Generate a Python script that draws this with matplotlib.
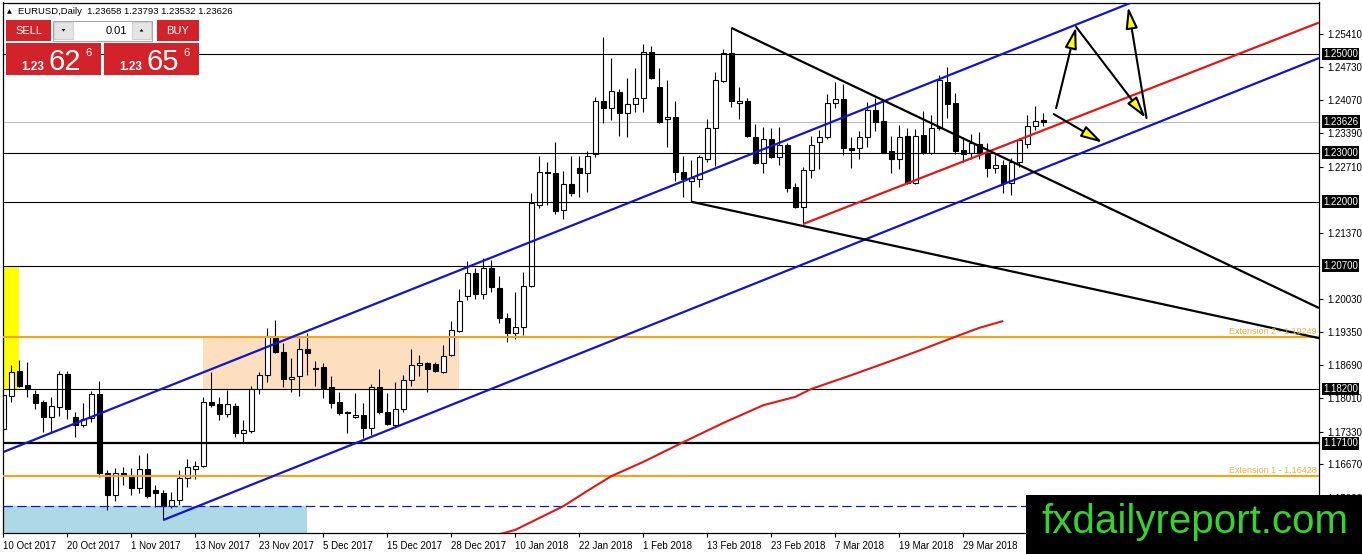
import matplotlib
matplotlib.use("Agg")
import matplotlib.pyplot as plt
from matplotlib.patches import Rectangle, Polygon
import numpy as np

plt.rcParams['font.family'] = ['Liberation Sans', 'DejaVu Sans']

# ---------------- data ----------------
opens = [1.1739,1.1806,1.1857,1.1828,1.1810,1.1794,1.1763,1.1783,1.1850,1.1763,
         1.1747,1.1761,1.1810,1.1649,1.1605,1.1649,1.1641,1.1619,1.1658,1.1615,
         1.1609,1.1582,1.1595,1.1639,1.1658,1.1664,1.1794,1.1790,1.1769,1.1785,
         1.1731,1.1735,1.1820,1.1848,1.1924,1.1895,1.1840,1.1846,1.1901,1.1863,
         1.1865,1.1824,1.1794,1.1773,1.1763,1.1767,1.1741,1.1824,1.1773,1.1747,
         1.1779,1.1838,1.1869,1.1873,1.1871,1.1854,1.1889,1.1938,1.2009,1.2055,
         1.2013,1.2066,1.2025,1.1964,1.1934,1.1946,1.2029,1.2193,1.2260,1.2258,
         1.2183,1.2236,1.2269,1.2258,1.2297,1.2405,1.2390,1.2423,1.2380,1.2398,
         1.2411,1.2504,1.2433,1.2368,1.2372,1.2260,1.2242,1.2246,1.2287,1.2350,
         1.2445,1.2502,1.2401,1.2405,1.2332,1.2279,1.2327,1.2291,1.2315,1.2230,
         1.2189,1.2264,1.2321,1.2332,1.2400,1.2409,1.2309,1.2309,1.2332,1.2386,
         1.2364,1.2303,1.2287,1.2334,1.2238,1.2336,1.2299,1.2350,1.2443,1.2401,
         1.2305,1.2299,1.2317,1.2299,1.2269,1.2275,1.2238,1.2281,1.2317,1.2354,
         1.23658]
highs = [1.1818,1.1869,1.1879,1.1875,1.1818,1.1798,1.1804,1.1857,1.1857,1.1773,
         1.1792,1.1816,1.1836,1.1656,1.1660,1.1662,1.1660,1.1686,1.1690,1.1625,
         1.1615,1.1611,1.1656,1.1678,1.1674,1.1804,1.1854,1.1804,1.1818,1.1792,
         1.1757,1.1826,1.1854,1.1944,1.1960,1.1913,1.1883,1.1924,1.1934,1.1877,
         1.1873,1.1846,1.1814,1.1775,1.1812,1.1792,1.1830,1.1861,1.1812,1.1834,
         1.1848,1.1901,1.1889,1.1875,1.1875,1.1909,1.1958,1.2023,1.2080,1.2066,
         1.2086,1.2082,1.2049,1.1974,1.2017,1.2057,1.2218,1.2293,1.2281,1.2321,
         1.2262,1.2293,1.2293,1.2303,1.2413,1.2535,1.2492,1.2429,1.2451,1.2472,
         1.2520,1.2516,1.2472,1.2447,1.2405,1.2293,1.2285,1.2295,1.2368,1.2463,
         1.2510,1.2553,1.2433,1.2411,1.2358,1.2352,1.2350,1.2352,1.2319,1.2238,
         1.2271,1.2334,1.2346,1.2419,1.2443,1.2439,1.2332,1.2344,1.2403,1.2411,
         1.2405,1.2334,1.2356,1.2350,1.2348,1.2384,1.2376,1.2457,1.2474,1.2421,
         1.2332,1.2338,1.2342,1.2319,1.2295,1.2285,1.2289,1.2330,1.2376,1.2394,
         1.23793]
lows = [1.1733,1.1794,1.1824,1.1804,1.1779,1.1733,1.1731,1.1765,1.1759,1.1723,
        1.1743,1.1753,1.1641,1.1574,1.1593,1.1625,1.1605,1.1609,1.1599,1.1580,
        1.1554,1.1578,1.1584,1.1621,1.1637,1.1662,1.1783,1.1757,1.1763,1.1723,
        1.1712,1.1731,1.1810,1.1834,1.1893,1.1824,1.1814,1.1806,1.1848,1.1826,
        1.1802,1.1781,1.1767,1.1731,1.1761,1.1720,1.1727,1.1769,1.1747,1.1743,
        1.1773,1.1826,1.1846,1.1814,1.1854,1.1852,1.1887,1.1936,1.2001,1.2003,
        1.2003,1.2017,1.1954,1.1915,1.1921,1.1930,1.2027,1.2187,1.2193,1.2175,
        1.2165,1.2212,1.2210,1.2220,1.2291,1.2360,1.2366,1.2334,1.2332,1.2382,
        1.2382,1.2449,1.2360,1.2311,1.2242,1.2210,1.2200,1.2230,1.2281,1.2273,
        1.2443,1.2392,1.2368,1.2332,1.2277,1.2258,1.2289,1.2275,1.2220,1.2187,
        1.2155,1.2248,1.2267,1.2327,1.2390,1.2295,1.2269,1.2287,1.2311,1.2344,
        1.2299,1.2258,1.2267,1.2236,1.2236,1.2297,1.2297,1.2346,1.2370,1.2297,
        1.2281,1.2287,1.2287,1.2250,1.2258,1.2218,1.2214,1.2271,1.2309,1.2346,
        1.23532]
closes = [1.1808,1.1854,1.1826,1.1820,1.1792,1.1763,1.1785,1.1850,1.1779,1.1747,
          1.1759,1.1810,1.1649,1.1605,1.1649,1.1643,1.1619,1.1658,1.1603,1.1609,
          1.1582,1.1595,1.1639,1.1662,1.1664,1.1794,1.1787,1.1769,1.1790,1.1731,
          1.1737,1.1820,1.1848,1.1928,1.1895,1.1840,1.1844,1.1901,1.1893,1.1861,
          1.1822,1.1792,1.1771,1.1771,1.1767,1.1741,1.1824,1.1773,1.1749,1.1779,
          1.1838,1.1869,1.1873,1.1861,1.1857,1.1887,1.1940,1.1999,1.2055,1.2013,
          1.2066,1.2027,1.1964,1.1934,1.1946,1.2029,1.2198,1.2260,1.2258,1.2181,
          1.2236,1.2218,1.2258,1.2293,1.2405,1.2390,1.2425,1.2380,1.2398,1.2411,
          1.2504,1.2451,1.2362,1.2372,1.2260,1.2246,1.2248,1.2291,1.2350,1.2447,
          1.2502,1.2405,1.2405,1.2334,1.2279,1.2327,1.2291,1.2315,1.2228,1.2189,
          1.2264,1.2315,1.2332,1.2400,1.2409,1.2309,1.2305,1.2332,1.2386,1.2362,
          1.2299,1.2287,1.2332,1.2238,1.2334,1.2299,1.2350,1.2447,1.2399,1.2303,
          1.2297,1.2319,1.2299,1.2269,1.2275,1.2238,1.2281,1.2325,1.2354,1.2364,
          1.23626]

date_ticks = [0, 8, 16, 24, 32, 40, 48, 56, 64, 72, 80, 88, 96, 104, 112, 120]
date_labels = ['10 Oct 2017', '20 Oct 2017', '1 Nov 2017', '13 Nov 2017', '23 Nov 2017',
               '5 Dec 2017', '15 Dec 2017', '28 Dec 2017', '10 Jan 2018', '22 Jan 2018',
               '1 Feb 2018', '13 Feb 2018', '23 Feb 2018', '7 Mar 2018', '19 Mar 2018',
               '29 Mar 2018']

price_ticks = [1.25410, 1.24730, 1.24070, 1.23390, 1.22710, 1.21370, 1.20030,
               1.19350, 1.18690, 1.18010, 1.17330, 1.16670, 1.15990]

h_levels = [1.25000, 1.23000, 1.22000, 1.20700, 1.18200]
h_level_thick = 1.17100
current_price = 1.23626
ext_levels = [1.19249, 1.16428]
ext_labels = ['Extension 2 - 1.19249', 'Extension 1 - 1.16428']
dashed_level = 1.1582

# 200-period moving average, read at these bars
ma_bars = [62, 64, 70, 73, 76, 80, 85, 90, 95, 99, 101, 106, 112, 115, 119, 122, 125]
ma_vals = [1.1525, 1.1534, 1.1582, 1.1613, 1.1643, 1.1672, 1.1712, 1.1751, 1.1787,
           1.1804, 1.1820, 1.1848, 1.1883, 1.1901, 1.1926, 1.1944, 1.1958]

# trend lines: (bar0, price0, bar1, price1, color); drawn from bar0 to the right edge
trend_lines = [
    (0, 1.1692, 140.5, 1.2601, '#1414C8'),   # upper channel
    (20, 1.1554, 164.5, 1.2492, '#1414C8'),  # lower channel
    (100, 1.2155, 164.5, 1.2564, '#E01818'), # red mid line
    (91, 1.2553, 164.5, 1.1984, 'black'),
    (86, 1.2200, 164.5, 1.1923, 'black'),
]

# zones: (bar_start, bar_end, price_low, price_high, color)
zones = [
    (-1, 2, 1.1820, 1.2070, '#FFFF00'),
    (25, 57, 1.1820, 1.19249, '#FDDFC0'),
    (-1, 38, 1.1500, 1.1582, '#ADD8E6'),
]

# projection arrows: (start_bar, start_price, tip_bar, tip_price)
arrows = [
    (131.6, 1.2390, 134.1, 1.2555),
    (134.1, 1.2555, 142.8, 1.2370),
    (142.9, 1.2370, 140.6, 1.2596),
    (131.3, 1.2378, 137.4, 1.2320),
]

# ---------------- figure ----------------
W, H = 1362, 554
fig = plt.figure(figsize=(W / 100, H / 100), dpi=100)
L, R, T, B = 3, 1319, 2.5, 533
ax = fig.add_axes([L / W, (H - B) / H, (R - L) / W, (B - T) / H])
XMIN, XMAX = -0.04, 164.46
YMIN, YMAX = 1.15276, 1.26045
ax.set_xlim(XMIN, XMAX)
ax.set_ylim(YMIN, YMAX)

for sp in ax.spines.values():
    sp.set_color('black')
    sp.set_linewidth(0.9)

# zones
for b0, b1, p0, p1, c in zones:
    ax.add_patch(Rectangle((b0, p0), b1 - b0, p1 - p0, facecolor=c, edgecolor='none', zorder=1))

# horizontal levels
for lv in h_levels:
    ax.axhline(lv, color='black', lw=0.8, zorder=3)
ax.axhline(h_level_thick, color='black', lw=1.6, zorder=3)
ax.axhline(current_price, color='#BDBDBD', lw=0.8, zorder=1.5)
for lv, lab in zip(ext_levels, ext_labels):
    ax.axhline(lv, color='#F5A31A', lw=1.5, zorder=3)
    ax.annotate(lab, xy=(1.0, lv), xycoords=('axes fraction', 'data'),
                xytext=(-2, 1.5), textcoords='offset pixels', ha='right', va='bottom',
                fontsize=6.5, color='#F2AE3A', zorder=4)
ax.axhline(dashed_level, color='#1414C8', lw=0.9, dashes=(7.5, 3.5), zorder=3)

# candles
x = np.arange(len(opens))
o = np.array(opens); h = np.array(highs); l = np.array(lows); c = np.array(closes)
ax.vlines(x, l, h, color='black', lw=0.8, zorder=2)
up = c >= o
bottoms = np.minimum(o, c)
heights = np.maximum(np.abs(c - o), 0.00004)
ax.bar(x[up], heights[up], bottom=bottoms[up], width=0.6, facecolor='white',
       edgecolor='black', linewidth=0.8, zorder=2.5)
ax.bar(x[~up], heights[~up], bottom=bottoms[~up], width=0.6, facecolor='black',
       edgecolor='black', linewidth=0.8, zorder=2.5)

# moving average
ax.plot(ma_bars, ma_vals, color='#E01818', lw=1.5, zorder=3, solid_capstyle='butt')

# trend lines
for b0, p0, b1, p1, col in trend_lines:
    slope = (p1 - p0) / (b1 - b0)
    xe = XMAX
    ax.plot([b0, xe], [p0, p0 + slope * (xe - b0)], color=col, lw=1.6, zorder=3.5,
            solid_capstyle='butt')

# arrows
for sb, sp_, tb, tp in arrows:
    ax.annotate('', xy=(tb, tp), xytext=(sb, sp_), xycoords='data',
                arrowprops=dict(arrowstyle='-|>,head_length=1.3,head_width=0.36',
                                mutation_scale=10, fc='#FFFF00', ec='black', lw=1.5,
                                shrinkA=0, shrinkB=0), zorder=4)

# axes ticks
ax.set_xticks(date_ticks)
ax.set_xticklabels(date_labels, ha='left', fontsize=7)
ax.tick_params(axis='x', direction='out', length=3, width=0.8, pad=2.5, colors='black')
ax.yaxis.tick_right()
ax.set_yticks(price_ticks)
ax.set_yticklabels(['%.5f' % v for v in price_ticks], fontsize=7)
ax.tick_params(axis='y', direction='out', length=3, width=0.8, pad=3, colors='black')

# black price boxes on the right axis
for lv in h_levels + [h_level_thick, current_price]:
    ax.annotate('%.5f' % lv, xy=(1.0, lv), xycoords=('axes fraction', 'data'),
                xytext=(4, 0), textcoords='offset pixels', ha='left', va='center',
                fontsize=7, color='white', annotation_clip=False,
                bbox=dict(boxstyle='square,pad=0.15', fc='black', ec='none'), zorder=6)

# ---------------- overlay (panel + watermark) ----------------
ov = fig.add_axes([0, 0, 1, 1], zorder=10)
ov.set_xlim(0, W); ov.set_ylim(H, 0)
ov.axis('off')
ov.patch.set_alpha(0)

red = '#D2232A'
ov.text(6.5, 11.5, '\u25B2', fontsize=4.5, ha='left', va='center', family=['DejaVu Sans'])
ov.text(18, 11.5, 'EURUSD,Daily  1.23658 1.23793 1.23532 1.23626', fontsize=6.8,
        ha='left', va='center', color='black')

ov.add_patch(Rectangle((6, 20), 45, 21, fc=red, ec='none'))
ov.text(28.5, 30.5, 'SELL', color='white', fontsize=8, ha='center', va='center')
ov.add_patch(Rectangle((157, 20), 42, 21, fc=red, ec='none'))
ov.text(178, 30.5, 'BUY', color='white', fontsize=8, ha='center', va='center')
ov.add_patch(Rectangle((52.5, 20.5), 99.5, 20, fc='white', ec='#A8A8A8', lw=0.8))
ov.add_patch(Rectangle((54, 22), 19, 17, fc='#E4E4E4', ec='#C8C8C8', lw=0.6))
ov.add_patch(Rectangle((132, 22), 19, 17, fc='#E4E4E4', ec='#C8C8C8', lw=0.6))
ov.add_patch(Polygon([[61.5, 29], [65.5, 29], [63.5, 31.5]], closed=True, fc='black', ec='none'))
ov.add_patch(Polygon([[139.5, 31.5], [143.5, 31.5], [141.5, 29]], closed=True, fc='black', ec='none'))
ov.text(127, 30.5, '0.01', color='black', fontsize=8, ha='right', va='center')

for bx, big, sup in [(6, '62', '6'), (104, '65', '6')]:
    ov.add_patch(Rectangle((bx, 43), 95, 32, fc=red, ec='none'))
    ov.text(bx + 15, 69.5, '1.23', color='white', fontsize=8.5, fontweight='bold',
            ha='left', va='baseline')
    ov.text(bx + 42, 70.5, big, color='white', fontsize=21, ha='left', va='baseline')
    ov.text(bx + 79, 56, sup, color='white', fontsize=8, ha='left', va='baseline')

# watermark
ov.add_patch(Rectangle((1026, 495), W - 1026, H - 495, fc='black', ec='none'))
ov.text(1041, 533, 'fxdailyreport.com', color='#37D22E', fontsize=29, ha='left',
        va='baseline')

fig.savefig('out.png', dpi=100)
